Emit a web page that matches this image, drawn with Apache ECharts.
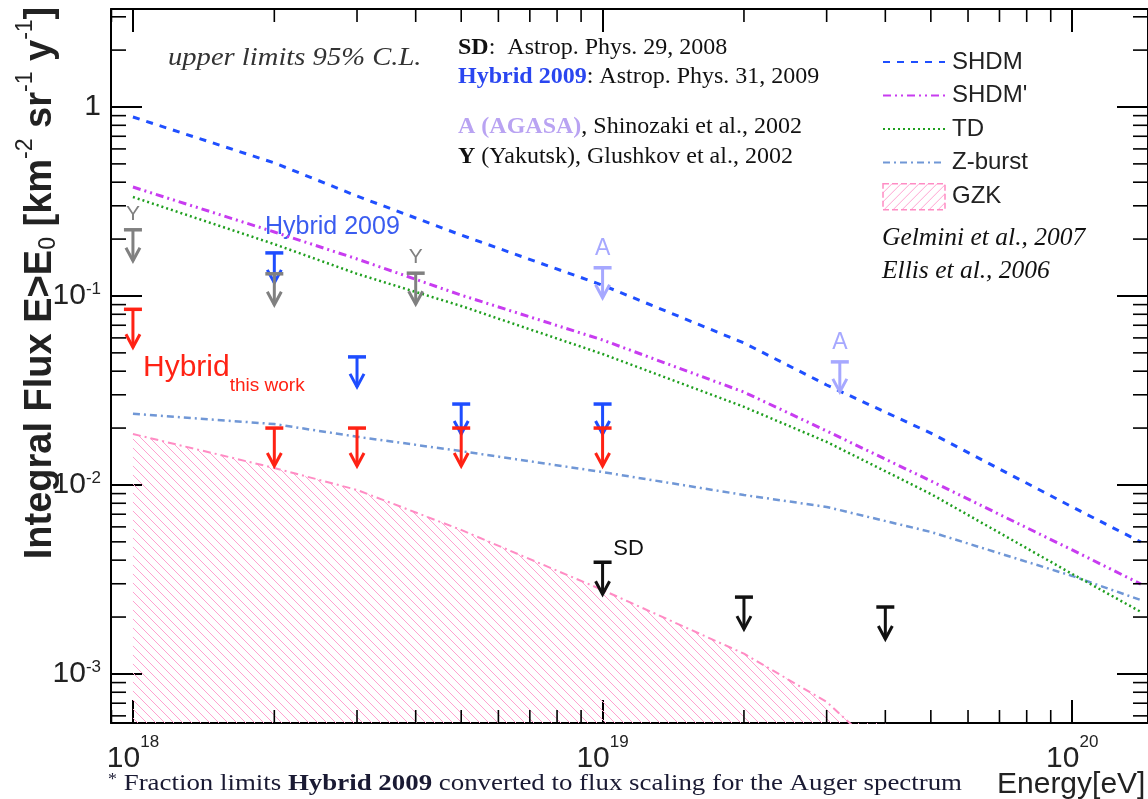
<!DOCTYPE html>
<html>
<head>
<meta charset="utf-8">
<script src="https://cdn.jsdelivr.net/npm/echarts@6/dist/echarts.min.js"></script>
<style>
  html, body { margin: 0; padding: 0; background: #fff; }
  #chart { width: 1148px; height: 799px; }
</style>
</head>
<body>
<div id="chart"></div>
<script>
// ---- model curves: integral photon flux (km^-2 sr^-1 yr^-1) vs threshold energy (eV)
const energies = [1e18, 2e18, 3e18, 5e18, 1e19, 2e19, 3e19, 5e19, 1e20, 1.4e20];
const shdm     = [0.885, 0.506, 0.338, 0.210, 0.114, 0.0564, 0.0338, 0.0188, 0.00765, 0.00499];
const shdmPrime= [0.377, 0.218, 0.157, 0.101, 0.0585, 0.0310, 0.0193, 0.0105, 0.00453, 0.00299];
const td       = [0.334, 0.188, 0.131, 0.0885, 0.0493, 0.0259, 0.0169, 0.00896, 0.00338, 0.00213];
const zburst   = [0.0238, 0.0210, 0.0180, 0.0151, 0.0117, 0.00885, 0.00765, 0.00564, 0.00330, 0.00246];
const gzkEnergies = [1e18, 2e18, 3e18, 5e18, 1e19, 2e19, 3e19, 4e19];
const gzk         = [0.0186, 0.0123, 0.00941, 0.00578, 0.00278, 0.00128, 0.000711, 0.00037];

// ---- upper limits (95% C.L.)
const hybridThisWorkE = [1e18, 2e18, 3e18, 5e18, 1e19];
const hybridThisWork  = [0.085, 0.020, 0.020, 0.020, 0.020];
const hybrid2009E = [2e18, 3e18, 5e18, 1e19];
const hybrid2009  = [0.169, 0.0476, 0.0268, 0.0268];
const yakutskE = [1e18, 2e18, 4e18];
const yakutsk  = [0.224, 0.131, 0.132];
const yakutskTags = ['Y', '', 'Y'];
const agasaE = [1e19, 3.2e19];
const agasa  = [0.141, 0.0448];
const agasaTags = ['A', 'A'];
const sdE = [1e19, 2e19, 4e19];
const sd  = [0.0039, 0.00255, 0.00226];
const sdTags = ['SD', '', ''];

// ---- axis ranges
const X_MIN = 8.98e17, X_MAX = 1.45e20;
const Y_MIN = 5.5e-4, Y_MAX = 3.3;

const SANS = "'Liberation Sans', Arial, sans-serif";
const SERIF = "'Liberation Serif', 'Times New Roman', serif";

const C = {
  shdm: '#1f4fff', shdmP: '#c83cf0', td: '#1f9f1f', zb: '#7097d6', gzk: '#ff8cc4',
  red: '#ff2214', blue: '#1e4dff', gray: '#808080', agasa: '#a6a8ff', black: '#111'
};

function hatch(size, color, down) {
  const c = document.createElement('canvas');
  c.width = c.height = size;
  const g = c.getContext('2d');
  g.strokeStyle = color; g.lineWidth = 1;
  g.beginPath();
  for (const k of [-size, 0, size]) {
    if (down) { g.moveTo(k, 0); g.lineTo(k + size, size); }
    else { g.moveTo(k, size); g.lineTo(k + size, 0); }
  }
  g.stroke();
  return c;
}

function minorTicks(lo, hi) {
  const out = [];
  for (let k = Math.floor(Math.log10(lo)); k <= Math.ceil(Math.log10(hi)); k++) {
    for (let m = 2; m <= 9; m++) {
      const v = m * Math.pow(10, k);
      if (v > lo && v < hi) out.push(v);
    }
  }
  return out;
}

function powLabel(v) {
  const e = Math.log10(v), r = Math.round(e);
  if (Math.abs(e - r) > 1e-6) return '';
  return r === 0 ? '{b|1}' : '{b|10}{s|' + r + '}';
}
const xLabelRich = {
  b: { fontSize: 30, fontFamily: SANS, color: '#222', lineHeight: 40, verticalAlign: 'bottom' },
  s: { fontSize: 17, fontFamily: SANS, color: '#222', lineHeight: 17, verticalAlign: 'top' }
};
const yLabelRich = {
  b: { fontSize: 30, fontFamily: SANS, color: '#222', lineHeight: 30, verticalAlign: 'bottom' },
  s: { fontSize: 17, fontFamily: SANS, color: '#222', lineHeight: 17, verticalAlign: 'top' }
};

function pairs(xs, ys) { return xs.map((x, i) => [x, ys[i]]); }

// upper-limit marker: bar at the limit, stem and arrow head pointing down
function limitSeries(name, xs, ys, color, stem, tags, tagDx, tagDy, tagSize, z) {
  return {
    type: 'custom', name, z, silent: true,
    data: pairs(xs, ys),
    encode: { x: 0, y: 1 },
    renderItem(params, api) {
      const p = api.coord([api.value(0), api.value(1)]);
      const x = p[0], y = p[1], tip = y + stem;
      const kids = [
        { type: 'line', shape: { x1: x - 9, y1: y, x2: x + 9, y2: y }, style: { stroke: color, lineWidth: 3.5 } },
        { type: 'line', shape: { x1: x, y1: y, x2: x, y2: tip }, style: { stroke: color, lineWidth: 3 } },
        { type: 'polyline', shape: { points: [[x - 7, tip - 13], [x, tip], [x + 7, tip - 13]] },
          style: { stroke: color, lineWidth: 3, fill: null } }
      ];
      const t = tags && tags[params.dataIndex];
      if (t) {
        kids.push({ type: 'text', x: x + tagDx, y: y + tagDy,
          style: { text: t, fill: color, fontSize: tagSize, fontFamily: SANS, align: 'center', verticalAlign: 'middle' } });
      }
      return { type: 'group', children: kids };
    }
  };
}

const gzkFill = { image: hatch(9, '#ffa2d0', true), repeat: 'repeat' };
const gzkLegendFill = { image: hatch(9, '#ffa2d0', false), repeat: 'repeat' };

const chart = echarts.init(document.getElementById('chart'));

const grid = { left: 111, top: 9, width: 1040, height: 714 };

const option = {
  animation: false,
  backgroundColor: '#fff',
  grid,
  xAxis: [
    {
      type: 'log', min: X_MIN, max: X_MAX, position: 'bottom',
      axisLine: { lineStyle: { color: '#000', width: 2 } },
      axisTick: { inside: true, length: 23, lineStyle: { color: '#000', width: 2 } },
      splitLine: { show: false },
      axisLabel: { formatter: powLabel, rich: xLabelRich, margin: 11, showMinLabel: false, showMaxLabel: false }
    },
    {
      type: 'log', min: X_MIN, max: X_MAX, position: 'top',
      axisLine: { lineStyle: { color: '#000', width: 2 } },
      axisTick: { inside: true, length: 23, lineStyle: { color: '#000', width: 2 } },
      splitLine: { show: false }, axisLabel: { show: false }
    }
  ],
  yAxis: [
    {
      type: 'log', min: Y_MIN, max: Y_MAX, position: 'left',
      axisLine: { lineStyle: { color: '#000', width: 2 } },
      axisTick: { inside: true, length: 31, lineStyle: { color: '#000', width: 2 } },
      splitLine: { show: false },
      axisLabel: { formatter: powLabel, rich: yLabelRich, margin: 10, showMinLabel: false, showMaxLabel: false }
    },
    {
      type: 'log', min: Y_MIN, max: Y_MAX, position: 'right',
      axisLine: { lineStyle: { color: '#000', width: 2 } },
      axisTick: { inside: true, length: 31, lineStyle: { color: '#000', width: 2 } },
      splitLine: { show: false }, axisLabel: { show: false }
    }
  ],
  legend: {
    data: [
      'SHDM', "SHDM'", 'TD', 'Z-burst',
      { name: 'GZK', icon: 'rect',
        itemStyle: { opacity: 1, color: gzkLegendFill, borderColor: C.gzk, borderWidth: 1.5, borderType: 'dashed' } }
    ],
    orient: 'vertical', left: 877, top: 44, itemWidth: 62, itemHeight: 26, itemGap: 7.5,
    selectedMode: false,
    itemStyle: { opacity: 0 },
    textStyle: { fontSize: 24, fontFamily: SANS, color: '#222', padding: [0, 0, 0, 2], lineHeight: 26 }
  },
  graphic: [
    { type: 'text', x: 168, y: 58, scaleX: 1.1, style: { text: 'upper limits 95% C.L.', font: "italic 26px " + SERIF, fill: '#333', verticalAlign: 'middle' } },
    { type: 'text', x: 458, y: 48, style: {
        text: '{b|SD}:  Astrop. Phys. 29, 2008', font: '24px ' + SERIF, fill: '#111', verticalAlign: 'middle',
        rich: { b: { fontWeight: 'bold', fontSize: 24, fontFamily: SERIF, fill: '#111' } } } },
    { type: 'text', x: 458, y: 77, style: {
        text: '{b|Hybrid 2009}: Astrop. Phys. 31, 2009', font: '24px ' + SERIF, fill: '#111', verticalAlign: 'middle',
        rich: { b: { fontWeight: 'bold', fontSize: 24, fontFamily: SERIF, fill: '#2a46f0' } } } },
    { type: 'text', x: 458, y: 127, style: {
        text: '{b|A (AGASA)}, Shinozaki et al., 2002', font: '24px ' + SERIF, fill: '#111', verticalAlign: 'middle',
        rich: { b: { fontWeight: 'bold', fontSize: 24, fontFamily: SERIF, fill: '#b9a3f2' } } } },
    { type: 'text', x: 458, y: 157, style: {
        text: '{b|Y} (Yakutsk), Glushkov et al., 2002', font: '24px ' + SERIF, fill: '#111', verticalAlign: 'middle',
        rich: { b: { fontWeight: 'bold', fontSize: 24, fontFamily: SERIF, fill: '#111' } } } },
    { type: 'text', x: 882, y: 238, style: { text: 'Gelmini et al., 2007', font: 'italic 25.5px ' + SERIF, fill: '#111', verticalAlign: 'middle' } },
    { type: 'text', x: 882, y: 271, style: { text: 'Ellis et al., 2006', font: 'italic 25.5px ' + SERIF, fill: '#111', verticalAlign: 'middle' } },
    { type: 'text', x: 265, y: 227, style: { text: 'Hybrid 2009', font: '25px ' + SANS, fill: '#3a5cf0', verticalAlign: 'middle' } },
    { type: 'text', x: 143, y: 370, style: {
        text: '{m|Hybrid}{s|this work}', fill: C.red, verticalAlign: 'middle',
        rich: {
          m: { fontSize: 30, fontFamily: SANS, fill: C.red, lineHeight: 34, verticalAlign: 'top' },
          s: { fontSize: 19, fontFamily: SANS, fill: C.red, lineHeight: 19, verticalAlign: 'bottom', padding: [0, 0, -8, 0] }
        } } },
    { type: 'text', x: 37, y: 283, rotation: Math.PI / 2, style: {
        text: '{m|Integral Flux E>E}{d|0}{m| [km}{u|-2}{m| sr}{u|-1}{m| y}{u|-1}{m|]}',
        align: 'center', verticalAlign: 'middle',
        rich: {
          m: { fontSize: 38, fontWeight: 'bold', fontFamily: SANS, fill: '#222', lineHeight: 46, verticalAlign: 'bottom' },
          u: { fontSize: 23, fontFamily: SANS, fill: '#222', lineHeight: 23, verticalAlign: 'top' },
          d: { fontSize: 23, fontFamily: SANS, fill: '#222', lineHeight: 23, verticalAlign: 'bottom' }
        } } },
    { type: 'text', x: 997, y: 785, style: { text: 'Energy[eV]', font: '30px ' + SANS, fill: '#222', verticalAlign: 'middle' } },
    { type: 'text', x: 108, y: 784, scaleX: 1.12, style: {
        text: '{a|*} Fraction limits {b|Hybrid 2009} converted to flux scaling for the Auger spectrum',
        font: '24px ' + SERIF, fill: '#1a1a33', verticalAlign: 'middle',
        rich: {
          a: { fontSize: 16, fontFamily: SERIF, fill: '#1a1a33', verticalAlign: 'top', lineHeight: 16 },
          b: { fontSize: 24, fontWeight: 'bold', fontFamily: SERIF, fill: '#1a1a33' }
        } } }
  ],
  series: [
    {
      name: 'GZK', type: 'line', data: pairs(gzkEnergies, gzk), symbol: 'none', z: 2,
      lineStyle: { color: C.gzk, width: 2, type: [8, 4, 2, 4] },
      itemStyle: { color: C.gzk },
      areaStyle: { origin: 'start', color: gzkFill, opacity: 1 }
    },
    {
      name: 'Z-burst', type: 'line', data: pairs(energies, zburst), symbol: 'none', z: 3,
      lineStyle: { color: C.zb, width: 2.5, type: [7, 4, 2, 4] }, itemStyle: { color: C.zb }
    },
    {
      name: 'TD', type: 'line', data: pairs(energies, td), symbol: 'none', z: 3,
      lineStyle: { color: C.td, width: 2.5, type: [2, 3] }, itemStyle: { color: C.td }
    },
    {
      name: "SHDM'", type: 'line', data: pairs(energies, shdmPrime), symbol: 'none', z: 3,
      lineStyle: { color: C.shdmP, width: 3, type: [8, 4, 2, 4, 2, 4] }, itemStyle: { color: C.shdmP }
    },
    {
      name: 'SHDM', type: 'line', data: pairs(energies, shdm), symbol: 'none', z: 3,
      lineStyle: { color: C.shdm, width: 3, type: [7, 7] }, itemStyle: { color: C.shdm }
    },
    // minor ticks along bottom and top axes
    {
      type: 'custom', silent: true, z: 6,
      data: minorTicks(X_MIN, X_MAX).map(v => [v, 1]),
      renderItem(params, api) {
        const r = params.coordSys;
        const x = api.coord([api.value(0), 1])[0];
        const b = r.y + r.height, t = r.y;
        return { type: 'group', children: [
          { type: 'line', shape: { x1: x, y1: b, x2: x, y2: b - 13 }, style: { stroke: '#000', lineWidth: 1.6 } },
          { type: 'line', shape: { x1: x, y1: t, x2: x, y2: t + 13 }, style: { stroke: '#000', lineWidth: 1.6 } }
        ] };
      }
    },
    // minor ticks along left and right axes
    {
      type: 'custom', silent: true, z: 6,
      data: minorTicks(Y_MIN, Y_MAX).map(v => [1e19, v]),
      renderItem(params, api) {
        const r = params.coordSys;
        const y = api.coord([1e19, api.value(1)])[1];
        const l = r.x, rt = r.x + r.width;
        return { type: 'group', children: [
          { type: 'line', shape: { x1: l, y1: y, x2: l + 15, y2: y }, style: { stroke: '#000', lineWidth: 1.6 } },
          { type: 'line', shape: { x1: rt, y1: y, x2: rt - 15, y2: y }, style: { stroke: '#000', lineWidth: 1.6 } }
        ] };
      }
    },
    limitSeries('Hybrid 2009', hybrid2009E, hybrid2009, C.blue, 30, null, 0, 0, 0, 8),
    limitSeries('Yakutsk', yakutskE, yakutsk, C.gray, 31, yakutskTags, 0, -16, 21, 9),
    limitSeries('AGASA', agasaE, agasa, C.agasa, 30, agasaTags, 0, -19, 23, 9),
    limitSeries('Hybrid this work', hybridThisWorkE, hybridThisWork, C.red, 38, null, 0, 0, 0, 10),
    limitSeries('SD', sdE, sd, C.black, 32, sdTags, 26, -13, 22, 10)
  ]
};

chart.setOption(option);
</script>
</body>
</html>
